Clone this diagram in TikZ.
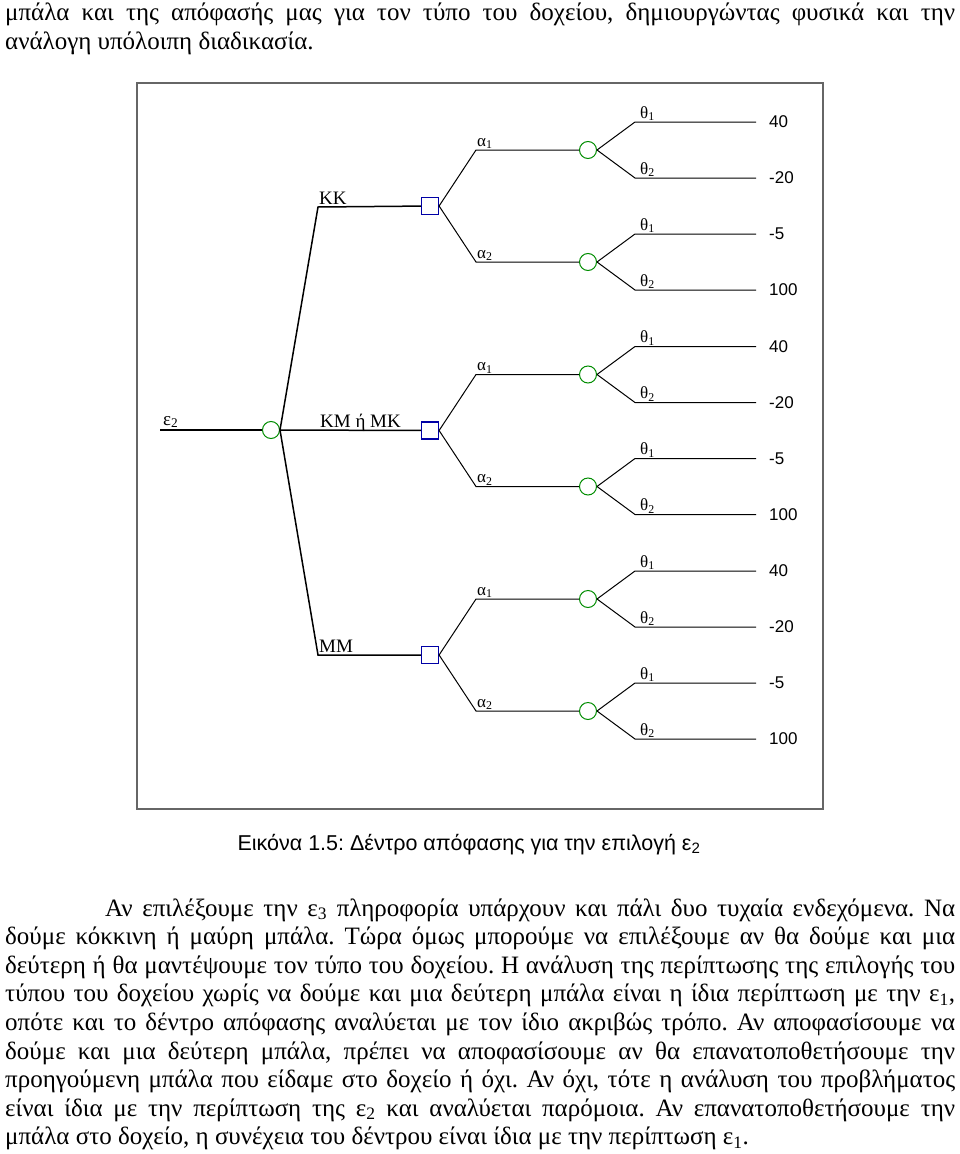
\documentclass[tikz,border=0pt]{standalone}
\usepackage{fontspec}
\setmainfont{Liberation Serif}
\newfontfamily\arialf{Liberation Sans}
\frenchspacing
\begin{document}
\begin{tikzpicture}[x=1pt,y=-1pt,
  frame/.style={draw=black!60,line width=2pt},
  lvlone/.style={line width=1.5pt},
  lvltwo/.style={line width=1pt},
  chance/.style={circle,draw=green!55!black,line width=1pt,minimum size=17pt,inner sep=0pt},
  decision/.style={rectangle,draw=blue!65!black,line width=1.2pt,minimum size=17pt,inner sep=0pt},
  lbl/.style={font=\fontsize{19}{22}\selectfont,inner sep=0pt,anchor=base west},
  sml/.style={font=\fontsize{17}{20}\selectfont,inner sep=0pt,anchor=base west},
  val/.style={font=\arialf\fontsize{17}{20}\selectfont,inner sep=0pt,anchor=west},
  body/.style={font=\fontsize{25}{29}\selectfont,inner sep=0pt,anchor=base west},
]
\useasboundingbox (0,0) rectangle (960,1154);
% top text
\node[body] (t1) at (5,20) {\makebox[950pt][s]{μπάλα και της απόφασής μας για τον τύπο του δοχείου, δημιουργώντας φυσικά και την}};
\node[body] (t2) at (5,49) {ανάλογη υπόλοιπη διαδικασία.};
% frame
\draw[frame] (137,83) rectangle (823,809);
% root
\coordinate (r) at (160,430);
\node[chance] (c0) at (271,430) {};
\draw[lvlone] (r) -- (c0);
\node[lbl] (le) at (163,425) {ε\textsubscript{2}};
\node[decision] (d1) at (430,206) {};
\node[decision] (d2) at (430,430.5) {};
\node[decision] (d3) at (430,655) {};
\coordinate (k1) at (318,207);
\coordinate (k3) at (318,655);
\draw[lvlone] (c0.east) -- (k1) -- (d1);
\draw[lvlone] (c0) -- (d2);
\draw[lvlone] (c0.east) -- (k3) -- (d3);
\node[lbl] (lk1) at (319,204) {ΚΚ};
\node[lbl] (lk2) at (320,427) {ΚΜ ή ΜΚ};
\node[lbl] (lk3) at (319,652) {ΜΜ};
\foreach \i/\y in {1/206,2/430.5,3/655} {
  \foreach \j/\s/\va/\vb in {1/-1/40/-20,2/1/-5/100} {
    \coordinate (a\i\j) at (476,{\y+\s*56});
    \node[chance] (c\i\j) at (588,{\y+\s*56}) {};
    \draw[lvltwo] (d\i.east) -- (a\i\j) -- (c\i\j);
    \node[sml] (la\i\j) at (477,{\y+\s*56-4}) {α\textsubscript{\j}};
    \foreach \k/\t/\v in {1/-1/\va,2/1/\vb} {
      \coordinate (t\i\j\k) at (635,{\y+\s*56+\t*28});
      \coordinate (e\i\j\k) at (756,{\y+\s*56+\t*28});
      \draw[lvltwo] (c\i\j.east) -- (t\i\j\k) -- (e\i\j\k);
      \node[sml] (lt\i\j\k) at (640,{\y+\s*56+\t*28-4}) {θ\textsubscript{\k}};
      \node[val] (v\i\j\k) at (769,{\y+\s*56+\t*28}) {\v};
    }
  }
}
% caption
\node[font=\arialf\fontsize{21.5}{25}\selectfont,anchor=base,inner sep=0pt] (cap) at (469,850) {Εικόνα 1.5: Δέντρο απόφασης για την επιλογή ε\textsubscript{2}};
% paragraph
\node[body] (p1) at (105,916) {\makebox[850pt][s]{Αν επιλέξουμε την ε\textsubscript{3} πληροφορία υπάρχουν και πάλι δυο τυχαία ενδεχόμενα. Να}};
\node[body] (p2) at (5,944.6) {\makebox[950pt][s]{δούμε κόκκινη ή μαύρη μπάλα. Τώρα όμως μπορούμε να επιλέξουμε αν θα δούμε και μια}};
\node[body] (p3) at (5,973.2) {\makebox[950pt][s]{δεύτερη ή θα μαντέψουμε τον τύπο του δοχείου. Η ανάλυση της περίπτωσης της επιλογής του}};
\node[body] (p4) at (5,1001.8) {\makebox[950pt][s]{τύπου του δοχείου χωρίς να δούμε και μια δεύτερη μπάλα είναι η ίδια περίπτωση με την ε\textsubscript{1},}};
\node[body] (p5) at (5,1030.4) {\makebox[950pt][s]{οπότε και το δέντρο απόφασης αναλύεται με τον ίδιο ακριβώς τρόπο. Αν αποφασίσουμε να}};
\node[body] (p6) at (5,1059) {\makebox[950pt][s]{δούμε και μια δεύτερη μπάλα, πρέπει να αποφασίσουμε αν θα επανατοποθετήσουμε την}};
\node[body] (p7) at (5,1087.6) {\makebox[950pt][s]{προηγούμενη μπάλα που είδαμε στο δοχείο ή όχι. Αν όχι, τότε η ανάλυση του προβλήματος}};
\node[body] (p8) at (5,1116.2) {\makebox[950pt][s]{είναι ίδια με την περίπτωση της ε\textsubscript{2} και αναλύεται παρόμοια. Αν επανατοποθετήσουμε την}};
\node[body] (p9) at (5,1144.8) {μπάλα στο δοχείο, η συνέχεια του δέντρου είναι ίδια με την περίπτωση ε\textsubscript{1}.};
\end{tikzpicture}
\end{document}
